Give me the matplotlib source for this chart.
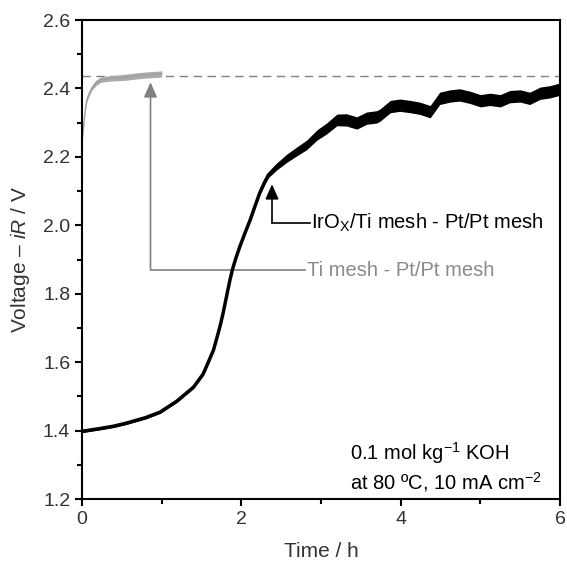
import numpy as np
import matplotlib
matplotlib.use("Agg")
import matplotlib.pyplot as plt

plt.rcParams['font.family'] = ['Liberation Sans', 'DejaVu Sans']
plt.rcParams['mathtext.fontset'] = 'custom'
plt.rcParams['mathtext.rm'] = 'Liberation Sans'
plt.rcParams['mathtext.it'] = 'Liberation Sans:italic'
plt.rcParams['mathtext.bf'] = 'Liberation Sans:bold'

# IrOx/Ti mesh - Pt/Pt mesh
t_irox = [0.0, 0.2, 0.4, 0.56, 0.8, 0.98, 1.19, 1.40, 1.52, 1.58, 1.65, 1.71,
          1.74, 1.77, 1.80, 1.83, 1.86, 1.89, 1.93, 1.98, 2.05, 2.11, 2.17,
          2.23, 2.29, 2.34, 2.44, 2.57, 2.69, 2.82, 2.95, 3.07, 3.20, 3.32,
          3.45, 3.57, 3.70, 3.74, 3.87, 3.99, 4.12, 4.24, 4.37, 4.49, 4.62,
          4.74, 4.87, 5.00, 5.12, 5.25, 5.37, 5.50, 5.62, 5.75, 5.87, 6.00]
v_irox = [1.398, 1.405, 1.413, 1.422, 1.438, 1.454, 1.486, 1.527, 1.565, 1.597,
          1.635, 1.685, 1.712, 1.742, 1.776, 1.810, 1.843, 1.872, 1.903, 1.937,
          1.980, 2.015, 2.055, 2.094, 2.125, 2.147, 2.171, 2.196, 2.215, 2.235,
          2.264, 2.283, 2.308, 2.308, 2.299, 2.313, 2.317, 2.322, 2.347, 2.351,
          2.347, 2.342, 2.332, 2.371, 2.378, 2.381, 2.374, 2.364, 2.368, 2.364,
          2.376, 2.378, 2.371, 2.386, 2.390, 2.398]
# half-width of the noisy band
w_irox = [0.004, 0.004, 0.004, 0.004, 0.004, 0.004, 0.004, 0.004, 0.004, 0.004,
          0.004, 0.004, 0.004, 0.004, 0.004, 0.004, 0.004, 0.004, 0.004, 0.004,
          0.004, 0.004, 0.005, 0.006, 0.007, 0.008, 0.010, 0.012, 0.013, 0.014,
          0.015, 0.016, 0.017, 0.018, 0.018, 0.018, 0.018, 0.018, 0.018, 0.018,
          0.018, 0.018, 0.018, 0.018, 0.018, 0.018, 0.018, 0.018, 0.018, 0.018,
          0.018, 0.018, 0.018, 0.018, 0.018, 0.018]

# Ti mesh - Pt/Pt mesh
t_ti = [0.0, 0.02, 0.04, 0.06, 0.09, 0.12, 0.17, 0.23, 0.3, 0.4, 0.56, 0.7, 0.85, 0.98, 1.0]
v_ti = [2.240, 2.290, 2.335, 2.366, 2.385, 2.400, 2.415, 2.425, 2.428, 2.430,
        2.433, 2.437, 2.440, 2.442, 2.443]
w_ti = [0.003, 0.004, 0.005, 0.006, 0.007, 0.007, 0.008, 0.008, 0.008, 0.008,
        0.009, 0.009, 0.009, 0.009, 0.009]

v_ref = 2.435

fig = plt.figure(figsize=(5.67, 5.65), dpi=100)
ax = fig.add_axes([0.1446, 0.1168, 0.8431, 0.8478])

t_irox = np.array(t_irox)
v_irox = np.array(v_irox)
w_irox = np.array(w_irox)
t_ti = np.array(t_ti)
v_ti = np.array(v_ti)
w_ti = np.array(w_ti)

ax.axhline(v_ref, color='#808080', lw=1.0, ls=(0, (6, 4)), zorder=1)

ax.fill_between(t_ti, v_ti - w_ti, v_ti + w_ti, color='#ababab', lw=0, zorder=2)
ax.plot(t_ti, v_ti, color='#a0a0a0', lw=1.0, zorder=2)

ax.fill_between(t_irox, v_irox - w_irox, v_irox + w_irox, color='black', lw=0, zorder=3)
ax.plot(t_irox, v_irox, color='black', lw=2.5, zorder=3)

# arrows and labels
fs = 14.5
ax.annotate('', xy=(0.86, 2.418), xytext=(0.86, 1.869),
            arrowprops=dict(arrowstyle='-|>,head_length=0.9,head_width=0.4',
                            color='#808080', lw=1.2, shrinkA=0, shrinkB=0))
ax.plot([0.86, 2.80], [1.869, 1.869], color='#808080', lw=1.2)
ax.text(2.82, 1.869, 'Ti mesh - Pt/Pt mesh', color='#8a8a8a', fontsize=fs,
        va='center', ha='left')

ax.annotate('', xy=(2.385, 2.12), xytext=(2.385, 2.007),
            arrowprops=dict(arrowstyle='-|>,head_length=0.9,head_width=0.4',
                            color='black', lw=1.2, shrinkA=0, shrinkB=0))
ax.plot([2.385, 2.86], [2.007, 2.007], color='black', lw=1.2)
ax.text(2.88, 2.007, r'IrO$_\mathregular{X}$/Ti mesh - Pt/Pt mesh', color='black',
        fontsize=fs, va='center', ha='left')

ax.text(3.36, 1.334, r'0.1 mol kg$^{\mathregular{-1}}$ KOH', fontsize=fs,
        va='center', ha='left')
ax.text(3.36, 1.249, r'at 80 ºC, 10 mA cm$^{\mathregular{-2}}$', fontsize=fs,
        va='center', ha='left')

ax.set_xlim(0, 6)
ax.set_ylim(1.2, 2.6)
ax.set_xticks([0, 2, 4, 6])
ax.set_xticks([1, 3, 5], minor=True)
ax.set_yticks(np.round(np.arange(1.2, 2.61, 0.2), 1))
ax.set_yticks(np.round(np.arange(1.3, 2.6, 0.2), 1), minor=True)
ax.set_yticklabels(['%.1f' % v for v in np.arange(1.2, 2.61, 0.2)])

for s in ax.spines.values():
    s.set_linewidth(1.5)
ax.tick_params(which='both', direction='out', width=1.5, labelsize=14,
               colors='black', labelcolor='#333333')
ax.tick_params(which='major', length=5)
ax.tick_params(which='minor', length=3.5)

ax.set_xlabel('Time / h', fontsize=15, color='#333333', labelpad=10)
ax.set_ylabel(r'Voltage – $\mathit{iR}$ / V', fontsize=15, color='#333333', labelpad=8)

fig.savefig('out.png', dpi=100)
